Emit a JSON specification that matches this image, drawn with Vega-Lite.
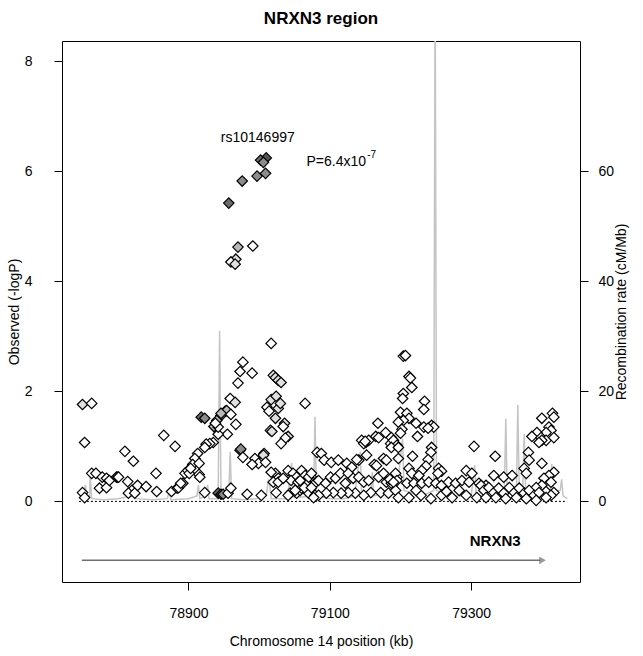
{
"$schema": "https://vega.github.io/schema/vega-lite/v6.json",
"width": 518, "height": 541,
"autosize": {"type": "none"},
"padding": {"left": 62, "top": 41, "right": 63, "bottom": 74},
"background": "white",
"title": {"text": "NRXN3 region", "fontSize": 17, "fontWeight": "bold", "font": "Liberation Sans", "color": "black", "anchor": "middle", "offset": 13},
"config": {
  "view": {"stroke": "black", "strokeWidth": 1},
  "font": "Liberation Sans",
  "axis": {"labelFont": "Liberation Sans", "labelFontSize": 14, "labelColor": "black", "tickColor": "black", "tickSize": 8, "domain": false, "grid": false, "titleFont": "Liberation Sans", "titleFontSize": 14, "titleFontWeight": "normal", "titleColor": "black"}
},
"datasets": {
"rec": [
{"kb":78745,"r":0.5},{"kb":78752,"r":1},{"kb":78754,"r":3},{"kb":78756,"r":1},{"kb":78760,"r":1},{"kb":78761,"r":4.8},{"kb":78763,"r":0.5},{"kb":78780,"r":0.3},{"kb":78800,"r":0.5},{"kb":78820,"r":1},{"kb":78822,"r":3},{"kb":78824,"r":0.5},{"kb":78850,"r":0.3},{"kb":78870,"r":0.5},{"kb":78873,"r":2},{"kb":78875,"r":0.3},{"kb":78900,"r":0.5},{"kb":78912,"r":1},{"kb":78914,"r":3},{"kb":78916,"r":0.5},{"kb":78925,"r":1},{"kb":78927,"r":3},{"kb":78929,"r":0.5},{"kb":78942,"r":0.5},{"kb":78944,"r":31},{"kb":78946,"r":0.5},{"kb":78957,"r":1},{"kb":78959,"r":9},{"kb":78961,"r":0.5},{"kb":78980,"r":0.3},{"kb":78995,"r":0.5},{"kb":79010,"r":1},{"kb":79013,"r":4},{"kb":79015,"r":3},{"kb":79017,"r":0.5},{"kb":79040,"r":0.5},{"kb":79046,"r":7},{"kb":79048,"r":0.8},{"kb":79060,"r":0.8},{"kb":79077,"r":1},{"kb":79079,"r":15.4},{"kb":79081,"r":1},{"kb":79100,"r":0.5},{"kb":79120,"r":0.5},{"kb":79135,"r":1},{"kb":79143,"r":9},{"kb":79145,"r":1.5},{"kb":79158,"r":1},{"kb":79160,"r":5.3},{"kb":79162,"r":1},{"kb":79195,"r":2},{"kb":79203,"r":11.4},{"kb":79205,"r":2},{"kb":79230,"r":1},{"kb":79247,"r":2},{"kb":79249,"r":95},{"kb":79251,"r":2},{"kb":79270,"r":1},{"kb":79300,"r":1},{"kb":79305,"r":6.6},{"kb":79307,"r":1},{"kb":79330,"r":1},{"kb":79347,"r":2},{"kb":79349,"r":15},{"kb":79351,"r":1.5},{"kb":79364,"r":2},{"kb":79366,"r":17.5},{"kb":79368,"r":2},{"kb":79373,"r":2},{"kb":79375,"r":12.3},{"kb":79377,"r":2},{"kb":79400,"r":2},{"kb":79412,"r":2},{"kb":79414,"r":6.8},{"kb":79416,"r":2},{"kb":79426,"r":2},{"kb":79428,"r":4},{"kb":79430,"r":1},{"kb":79436,"r":0.5}
],
"snps": [
{"kb":78750,"p":1.76,"ld":1},{"kb":78763,"p":1.78,"ld":0},{"kb":78753,"p":1.07,"ld":0},{"kb":78810,"p":0.91,"ld":0},{"kb":78822,"p":0.73,"ld":0},{"kb":78865,"p":1.2,"ld":0},{"kb":78881,"p":1.0,"ld":0},{"kb":78763,"p":0.51,"ld":0},{"kb":78769,"p":0.51,"ld":0},{"kb":78778,"p":0.44,"ld":0},{"kb":78784,"p":0.42,"ld":0},{"kb":78774,"p":0.24,"ld":0},{"kb":78784,"p":0.25,"ld":0},{"kb":78788,"p":0.38,"ld":0},{"kb":78798,"p":0.44,"ld":0},{"kb":78800,"p":0.44,"ld":0},{"kb":78801,"p":0.44,"ld":0},{"kb":78814,"p":0.36,"ld":0},{"kb":78820,"p":0.2,"ld":0},{"kb":78815,"p":0.15,"ld":0},{"kb":78824,"p":0.15,"ld":0},{"kb":78828,"p":0.29,"ld":0},{"kb":78840,"p":0.27,"ld":0},{"kb":78854,"p":0.51,"ld":0},{"kb":78855,"p":0.18,"ld":0},{"kb":78750,"p":0.16,"ld":0},{"kb":78753,"p":0.07,"ld":0},{"kb":78876,"p":0.18,"ld":0},{"kb":78884,"p":0.24,"ld":0},{"kb":78886,"p":0.25,"ld":0},{"kb":78892,"p":0.33,"ld":0},{"kb":78895,"p":0.51,"ld":0},{"kb":78899,"p":0.56,"ld":0},{"kb":78901,"p":0.51,"ld":0},
{"kb":79017,"p":2.87,"ld":0},{"kb":78977,"p":2.53,"ld":0},{"kb":78973,"p":2.36,"ld":0},{"kb":78990,"p":2.33,"ld":0},{"kb":78970,"p":2.15,"ld":0},{"kb":79020,"p":2.29,"ld":1},{"kb":79023,"p":2.25,"ld":1},{"kb":79027,"p":2.2,"ld":1},{"kb":79031,"p":2.16,"ld":1},{"kb":78959,"p":1.87,"ld":0},{"kb":78966,"p":1.8,"ld":1},{"kb":78918,"p":1.53,"ld":4},{"kb":78923,"p":1.51,"ld":3},{"kb":78952,"p":1.64,"ld":3},{"kb":78946,"p":1.56,"ld":2},{"kb":78940,"p":1.47,"ld":2},{"kb":78936,"p":1.36,"ld":2},{"kb":78954,"p":1.65,"ld":2},{"kb":78946,"p":1.6,"ld":2},{"kb":78960,"p":1.58,"ld":0},{"kb":78967,"p":1.4,"ld":0},{"kb":78955,"p":1.22,"ld":0},{"kb":78942,"p":1.22,"ld":0},{"kb":78942,"p":1.35,"ld":0},{"kb":78938,"p":1.42,"ld":0},{"kb":78935,"p":1.07,"ld":0},{"kb":78930,"p":1.05,"ld":0},{"kb":78925,"p":1.04,"ld":0},{"kb":78923,"p":0.98,"ld":0},{"kb":78913,"p":0.87,"ld":0},{"kb":78909,"p":0.78,"ld":0},{"kb":78906,"p":0.67,"ld":0},{"kb":78915,"p":0.69,"ld":0},{"kb":78903,"p":0.6,"ld":0},{"kb":78889,"p":0.33,"ld":0},{"kb":78915,"p":0.49,"ld":0},{"kb":78916,"p":0.44,"ld":0},{"kb":78923,"p":0.16,"ld":0},{"kb":78942,"p":0.15,"ld":4},{"kb":78946,"p":0.13,"ld":4},{"kb":78949,"p":0.13,"ld":3},{"kb":78956,"p":0.15,"ld":0},{"kb":78960,"p":0.24,"ld":0},{"kb":78983,"p":0.13,"ld":0},{"kb":79003,"p":0.11,"ld":0},{"kb":79024,"p":0.16,"ld":0},
{"kb":79017,"p":1.85,"ld":1},{"kb":79024,"p":1.91,"ld":1},{"kb":79027,"p":1.69,"ld":1},{"kb":79030,"p":1.78,"ld":1},{"kb":79011,"p":1.71,"ld":0},{"kb":79014,"p":1.64,"ld":0},{"kb":79023,"p":1.51,"ld":1},{"kb":79016,"p":1.29,"ld":1},{"kb":79018,"p":1.27,"ld":1},{"kb":79036,"p":1.42,"ld":1},{"kb":79034,"p":1.36,"ld":0},{"kb":79041,"p":1.18,"ld":1},{"kb":79037,"p":1.15,"ld":0},{"kb":79031,"p":1.05,"ld":0},{"kb":78973,"p":0.93,"ld":2},{"kb":78974,"p":0.95,"ld":3},{"kb":78977,"p":0.8,"ld":0},{"kb":79007,"p":0.87,"ld":1},{"kb":78994,"p":0.78,"ld":0},{"kb":78999,"p":0.69,"ld":0},{"kb":78990,"p":0.67,"ld":0},{"kb":79006,"p":0.84,"ld":1},{"kb":79009,"p":0.71,"ld":0},{"kb":79065,"p":1.78,"ld":0},
{"kb":79023,"p":0.51,"ld":0},{"kb":79027,"p":0.42,"ld":0},{"kb":79041,"p":0.56,"ld":0},{"kb":79048,"p":0.51,"ld":0},{"kb":79053,"p":0.44,"ld":0},{"kb":79045,"p":0.38,"ld":0},{"kb":79044,"p":0.15,"ld":0},{"kb":79053,"p":0.15,"ld":0},{"kb":79058,"p":0.2,"ld":0},{"kb":79017,"p":0.53,"ld":0},{"kb":79020,"p":0.35,"ld":0},{"kb":79027,"p":0.35,"ld":0},{"kb":79034,"p":0.42,"ld":0},{"kb":79055,"p":0.35,"ld":0},{"kb":79063,"p":0.44,"ld":0},{"kb":79067,"p":0.35,"ld":0},{"kb":79074,"p":0.44,"ld":0},{"kb":79079,"p":0.33,"ld":0},{"kb":79060,"p":0.24,"ld":0},{"kb":79051,"p":0.2,"ld":0},{"kb":79041,"p":0.11,"ld":0},{"kb":79070,"p":0.15,"ld":0},{"kb":79079,"p":0.11,"ld":0},
{"kb":79082,"p":0.89,"ld":0},{"kb":79088,"p":0.87,"ld":0},{"kb":79092,"p":0.75,"ld":0},{"kb":79102,"p":0.71,"ld":0},{"kb":79112,"p":0.75,"ld":0},{"kb":79124,"p":0.69,"ld":0},{"kb":79131,"p":0.62,"ld":0},{"kb":79141,"p":0.75,"ld":0},{"kb":79145,"p":1.11,"ld":0},{"kb":79151,"p":1.07,"ld":0},{"kb":79155,"p":1.11,"ld":0},{"kb":79148,"p":1.05,"ld":0},{"kb":79150,"p":1.09,"ld":0},{"kb":79168,"p":1.42,"ld":0},{"kb":79165,"p":1.18,"ld":0},{"kb":79169,"p":1.16,"ld":0},{"kb":79179,"p":1.25,"ld":0},{"kb":79187,"p":1.16,"ld":0},{"kb":79186,"p":1.05,"ld":0},{"kb":79163,"p":0.67,"ld":0},{"kb":79138,"p":0.76,"ld":0},{"kb":79152,"p":0.84,"ld":0},
{"kb":79060,"p":0.56,"ld":0},{"kb":79065,"p":0.47,"ld":0},{"kb":79070,"p":0.44,"ld":0},{"kb":79074,"p":0.51,"ld":0},{"kb":79058,"p":0.38,"ld":0},{"kb":79064,"p":0.25,"ld":0},{"kb":79074,"p":0.25,"ld":0},{"kb":79084,"p":0.38,"ld":0},{"kb":79094,"p":0.33,"ld":0},{"kb":79101,"p":0.44,"ld":0},{"kb":79108,"p":0.42,"ld":0},{"kb":79115,"p":0.51,"ld":0},{"kb":79122,"p":0.33,"ld":0},{"kb":79126,"p":0.51,"ld":0},{"kb":79133,"p":0.42,"ld":0},{"kb":79141,"p":0.44,"ld":0},{"kb":79148,"p":0.35,"ld":0},{"kb":79155,"p":0.38,"ld":0},{"kb":79158,"p":0.16,"ld":0},{"kb":79148,"p":0.11,"ld":0},{"kb":79136,"p":0.15,"ld":0},{"kb":79126,"p":0.16,"ld":0},{"kb":79116,"p":0.15,"ld":0},{"kb":79105,"p":0.16,"ld":0},{"kb":79095,"p":0.15,"ld":0},{"kb":79084,"p":0.11,"ld":0},{"kb":79077,"p":0.07,"ld":0},{"kb":79169,"p":0.44,"ld":0},{"kb":79176,"p":0.51,"ld":0},{"kb":79180,"p":0.35,"ld":0},{"kb":79187,"p":0.33,"ld":0},{"kb":79195,"p":0.44,"ld":0},{"kb":79172,"p":0.16,"ld":0},{"kb":79183,"p":0.15,"ld":0},{"kb":79193,"p":0.2,"ld":0},{"kb":79176,"p":0.78,"ld":0},{"kb":79180,"p":0.75,"ld":0},{"kb":79166,"p":0.65,"ld":0},{"kb":79185,"p":0.4,"ld":0},
{"kb":79204,"p":2.64,"ld":0},{"kb":79207,"p":2.65,"ld":0},{"kb":79212,"p":2.27,"ld":0},{"kb":79214,"p":2.24,"ld":0},{"kb":79216,"p":2.07,"ld":0},{"kb":79204,"p":1.96,"ld":0},{"kb":79203,"p":1.87,"ld":0},{"kb":79234,"p":1.82,"ld":0},{"kb":79233,"p":1.67,"ld":0},{"kb":79200,"p":1.62,"ld":0},{"kb":79209,"p":1.6,"ld":0},{"kb":79212,"p":1.51,"ld":0},{"kb":79204,"p":1.47,"ld":0},{"kb":79197,"p":1.44,"ld":0},{"kb":79222,"p":1.42,"ld":0},{"kb":79202,"p":1.31,"ld":0},{"kb":79200,"p":1.24,"ld":0},{"kb":79233,"p":1.35,"ld":0},{"kb":79244,"p":1.38,"ld":0},{"kb":79247,"p":1.35,"ld":0},{"kb":79239,"p":1.33,"ld":0},{"kb":79224,"p":1.18,"ld":0},{"kb":79190,"p":1.11,"ld":0},{"kb":79195,"p":1.02,"ld":0},{"kb":79187,"p":0.98,"ld":0},{"kb":79197,"p":0.98,"ld":0},{"kb":79304,"p":1.0,"ld":0},{"kb":79244,"p":0.98,"ld":0},{"kb":79243,"p":0.89,"ld":0},{"kb":79217,"p":0.82,"ld":0},{"kb":79197,"p":0.78,"ld":0},{"kb":79239,"p":0.76,"ld":0},{"kb":79236,"p":0.64,"ld":0},{"kb":79230,"p":0.56,"ld":0},{"kb":79254,"p":0.6,"ld":0},{"kb":79258,"p":0.55,"ld":0},{"kb":79253,"p":0.51,"ld":0},{"kb":79212,"p":0.6,"ld":0},{"kb":79216,"p":0.51,"ld":0},{"kb":79226,"p":0.47,"ld":0},{"kb":79293,"p":0.56,"ld":0},{"kb":79301,"p":0.51,"ld":0},{"kb":79193,"p":0.51,"ld":0},{"kb":79195,"p":0.38,"ld":0},{"kb":79190,"p":0.35,"ld":0},
{"kb":79209,"p":0.33,"ld":0},{"kb":79219,"p":0.33,"ld":0},{"kb":79230,"p":0.33,"ld":0},{"kb":79240,"p":0.35,"ld":0},{"kb":79250,"p":0.33,"ld":0},{"kb":79258,"p":0.29,"ld":0},{"kb":79268,"p":0.35,"ld":0},{"kb":79278,"p":0.33,"ld":0},{"kb":79287,"p":0.38,"ld":0},{"kb":79297,"p":0.35,"ld":0},{"kb":79311,"p":0.33,"ld":0},{"kb":79321,"p":0.29,"ld":0},{"kb":79197,"p":0.07,"ld":0},{"kb":79212,"p":0.07,"ld":0},{"kb":79229,"p":0.11,"ld":0},{"kb":79243,"p":0.05,"ld":0},{"kb":79258,"p":0.11,"ld":0},{"kb":79273,"p":0.07,"ld":0},{"kb":79293,"p":0.11,"ld":0},{"kb":79308,"p":0.07,"ld":0},{"kb":79283,"p":0.2,"ld":0},{"kb":79265,"p":0.18,"ld":0},{"kb":79222,"p":0.2,"ld":0},
{"kb":79415,"p":1.6,"ld":0},{"kb":79417,"p":1.53,"ld":0},{"kb":79400,"p":1.51,"ld":0},{"kb":79410,"p":1.35,"ld":0},{"kb":79413,"p":1.29,"ld":0},{"kb":79406,"p":1.25,"ld":0},{"kb":79393,"p":1.25,"ld":0},{"kb":79386,"p":1.18,"ld":0},{"kb":79399,"p":1.16,"ld":0},{"kb":79406,"p":1.11,"ld":0},{"kb":79417,"p":1.16,"ld":0},{"kb":79400,"p":1.11,"ld":0},{"kb":79396,"p":1.07,"ld":0},{"kb":79334,"p":0.82,"ld":0},{"kb":79381,"p":0.89,"ld":0},{"kb":79382,"p":0.75,"ld":0},{"kb":79375,"p":0.6,"ld":0},{"kb":79378,"p":0.51,"ld":0},{"kb":79400,"p":0.69,"ld":0},{"kb":79417,"p":0.53,"ld":0},{"kb":79410,"p":0.47,"ld":0},{"kb":79403,"p":0.42,"ld":0},{"kb":79332,"p":0.47,"ld":0},{"kb":79346,"p":0.44,"ld":0},{"kb":79358,"p":0.47,"ld":0},{"kb":79413,"p":0.35,"ld":0},{"kb":79400,"p":0.29,"ld":0},{"kb":79392,"p":0.25,"ld":0},{"kb":79406,"p":0.18,"ld":0},{"kb":79417,"p":0.16,"ld":0},{"kb":79413,"p":0.11,"ld":0},{"kb":79314,"p":0.29,"ld":0},{"kb":79318,"p":0.2,"ld":0},{"kb":79325,"p":0.25,"ld":0},{"kb":79332,"p":0.16,"ld":0},{"kb":79339,"p":0.24,"ld":0},{"kb":79346,"p":0.15,"ld":0},{"kb":79354,"p":0.25,"ld":0},{"kb":79361,"p":0.16,"ld":0},{"kb":79368,"p":0.24,"ld":0},{"kb":79375,"p":0.15,"ld":0},{"kb":79382,"p":0.2,"ld":0},{"kb":79389,"p":0.11,"ld":0},{"kb":79396,"p":0.16,"ld":0},{"kb":79406,"p":0.07,"ld":0},{"kb":79321,"p":0.07,"ld":0},{"kb":79335,"p":0.07,"ld":0},{"kb":79349,"p":0.05,"ld":0},{"kb":79364,"p":0.07,"ld":0},{"kb":79378,"p":0.05,"ld":0},{"kb":79392,"p":0.02,"ld":0},
{"kb":78970,"p":4.62,"ld":2},{"kb":78991,"p":4.64,"ld":0},{"kb":78967,"p":4.4,"ld":1},{"kb":78960,"p":4.35,"ld":0},{"kb":78966,"p":4.31,"ld":1},{"kb":78957,"p":5.42,"ld":4},{"kb":78976,"p":5.82,"ld":3},{"kb":78997,"p":5.91,"ld":3},{"kb":79009,"p":5.96,"ld":3},{"kb":79010,"p":6.24,"ld":5},{"kb":79002,"p":6.2,"ld":4},{"kb":79006,"p":6.16,"ld":3}
],
"notes": [
{"kb":78998,"p":6.6,"t":"rs10146997","a":"center"},
{"kb":79067,"p":6.16,"t":"P=6.4x10","a":"left"}
]
},
"encoding": {"x": {"field": "kb", "type": "quantitative", "scale": {"domain": [78721, 79454], "nice": false, "zero": false}, "axis": {"values": [78900, 79100, 79300], "title": "Chromosome 14 position (kb)", "labelPadding": 16, "titlePadding": 14, "format": "d"}}},
"layer": [
{
 "data": {"name": "rec"},
 "mark": {"type": "line", "color": "#c4c4c4", "strokeWidth": 1.5, "clip": true},
 "encoding": {
  "x": {"field": "kb", "type": "quantitative"},
  "y": {"field": "r", "type": "quantitative", "scale": {"domain": [-14.64, 83.64], "nice": false, "zero": false}, "axis": {"orient": "right", "values": [0, 20, 40, 60], "title": "Recombination rate (cM/Mb)", "titleAngle": 270, "labelAngle": 0, "labelPadding": 10, "titlePadding": 15}}
 }
},
{
 "encoding": {"y": {"field": "p", "type": "quantitative", "scale": {"domain": [-1.464, 8.364], "nice": false, "zero": false}, "axis": {"values": [0, 2, 4, 6, 8], "title": "Observed (-logP)", "labelAngle": 0, "labelPadding": 22, "titlePadding": 3}}},
 "layer": [
  {"data": {"values": [{"kb": 78745, "kb2": 79434, "p": 0}]}, "mark": {"type": "rule", "color": "black", "strokeDash": [2, 2], "strokeWidth": 1}, "encoding": {"x2": {"field": "kb2"}}},
  {"data": {"values": [{"kb": 78749, "kb2": 79398, "p": -1.07}]}, "mark": {"type": "rule", "color": "#707070", "strokeWidth": 1.5}, "encoding": {"x2": {"field": "kb2"}}},
  {"data": {"values": [{"kb": 79401, "p": -1.07}]}, "mark": {"type": "point", "shape": "triangle-right", "filled": true, "color": "#707070", "size": 60}, "encoding": {}},
  {"data": {"values": [{"kb": 79334, "p": -0.72, "t": "NRXN3"}]}, "mark": {"type": "text", "fontWeight": "bold", "fontSize": 15, "font": "Liberation Sans", "color": "black"}, "encoding": {"text": {"field": "t"}}},
  {"data": {"name": "snps"}, "mark": {"type": "point", "shape": "diamond", "filled": true, "stroke": "black", "strokeWidth": 1.2, "opacity": 1, "clip": true},
   "encoding": {
    "fill": {"field": "ld", "type": "ordinal", "scale": {"domain": [0, 1, 2, 3, 4, 5], "range": ["#ffffff", "#e0e0e0", "#b8b8b8", "#8c8c8c", "#6a6a6a", "#555555"]}, "legend": null},
    "size": {"field": "ld", "type": "ordinal", "scale": {"domain": [0, 1, 2, 3, 4, 5], "range": [110, 110, 110, 110, 110, 320]}, "legend": null}
   }},
  {"data": {"name": "notes"}, "mark": {"type": "text", "fontSize": 14, "font": "Liberation Sans", "color": "black", "align": {"expr": "datum.a"}}, "encoding": {"text": {"field": "t"}}},
  {"data": {"values": [{"kb": 79153, "p": 6.3, "t": "-7"}]}, "mark": {"type": "text", "fontSize": 10, "font": "Liberation Sans", "color": "black", "align": "left"}, "encoding": {"text": {"field": "t"}}}
 ]
}
],
"resolve": {"scale": {"y": "independent"}}
}
